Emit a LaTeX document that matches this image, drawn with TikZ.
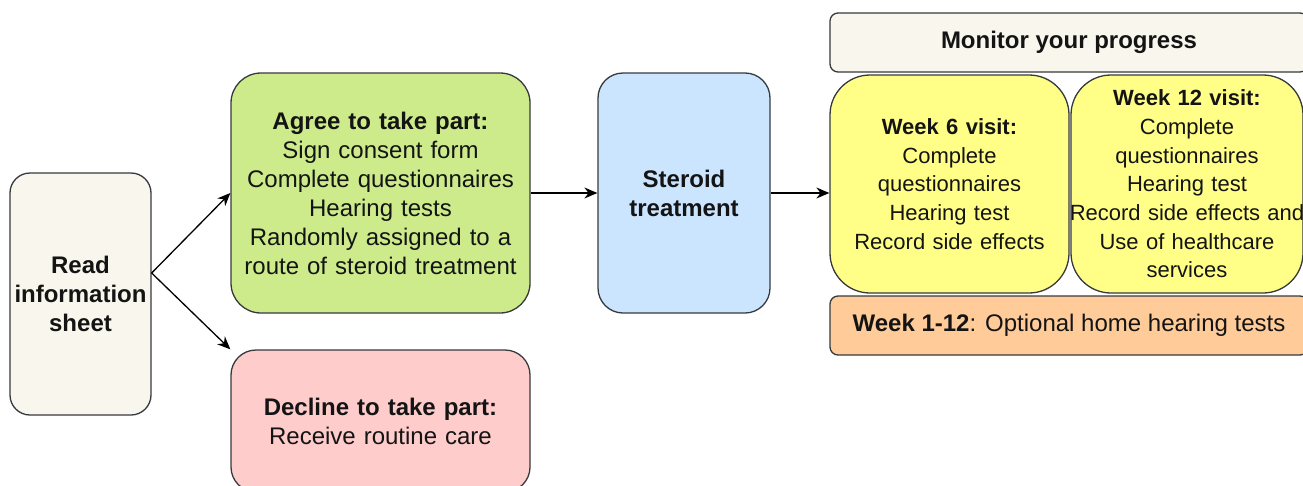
\documentclass[tikz,border=0pt]{standalone}
\usepackage{fontspec}
\setmainfont{Liberation Sans}
\usetikzlibrary{arrows.meta}

\definecolor{edgegrey}{HTML}{36393D}
\definecolor{beige}{HTML}{F9F7ED}
\definecolor{agreegreen}{HTML}{CDEB8B}
\definecolor{steroidblue}{HTML}{CCE5FF}
\definecolor{declinepink}{HTML}{FFCCCC}
\definecolor{visityellow}{HTML}{FFFF88}
\definecolor{homeorange}{HTML}{FFCC99}

\begin{document}
\begin{tikzpicture}[x=1pt,y=-1pt,>={Stealth[length=13pt,width=11pt]},
    box/.style={draw=edgegrey,line width=1.3pt,align=center,inner sep=0pt,text=black!92},
    visit/.style={box,fill=visityellow,rounded corners=40pt,minimum height=218pt,
        font=\fontsize{22}{28.7}\selectfont}]
    \tikzstyle{every node}=[font=\fontsize{24}{29}\selectfont]
    \useasboundingbox (0,0) rectangle (1303,485);

    \node[box,fill=beige,rounded corners=20pt,minimum width=141pt,minimum height=242pt,
        text width=138pt] (read) at (80.5,294) {\bfseries Read\\information\\sheet};

    \node[box,fill=agreegreen,rounded corners=30pt,minimum width=299pt,minimum height=240pt,
        text width=296pt] (agree) at (380.5,193)
        {\textbf{Agree to take part:}\\Sign consent form\\Complete questionnaires\\Hearing tests\\
        Randomly assigned to a\\route of steroid treatment};

    \node[box,fill=declinepink,rounded corners=25pt,minimum width=299pt,minimum height=142pt,
        text width=296pt] (decline) at (380.5,421)
        {\textbf{Decline to take part:}\\Receive routine care};

    \node[box,fill=steroidblue,rounded corners=25pt,minimum width=172pt,minimum height=240pt,
        text width=168pt] (steroid) at (684,193) {\bfseries Steroid\\treatment};

    \node[box,fill=beige,rounded corners=8pt,minimum width=478pt,minimum height=59pt]
        (monitor) at (1069,42.5) {\textbf{Monitor your progress}};

    \node[visit,minimum width=239pt,text width=236pt] (wksix) at (949.5,184)
        {\textbf{Week 6 visit:}\\Complete\\questionnaires\\Hearing test\\Record side effects};

    \node[visit,minimum width=232pt,text width=232pt] (wktwelve) at (1187,184)
        {\textbf{Week 12 visit:}\\Complete\\questionnaires\\Hearing test\\
        \makebox[\linewidth]{Record side effects and}\\Use of healthcare\\services};

    \node[box,fill=homeorange,rounded corners=8pt,minimum width=478pt,minimum height=59pt]
        (home) at (1069,325.5) {\textbf{Week 1-12}: Optional home hearing tests};

    \draw[->,line width=1.3pt] ([yshift=21pt]read.east) -- (agree.west);
    \draw[->,line width=1.3pt] ([yshift=21pt]read.east) -- (decline.north west);
    \draw[->,line width=1.3pt] (agree.east) -- (steroid.west);
    \draw[->,line width=1.3pt] (steroid.east) -- (wksix.west |- steroid.east);
\end{tikzpicture}
\end{document}
